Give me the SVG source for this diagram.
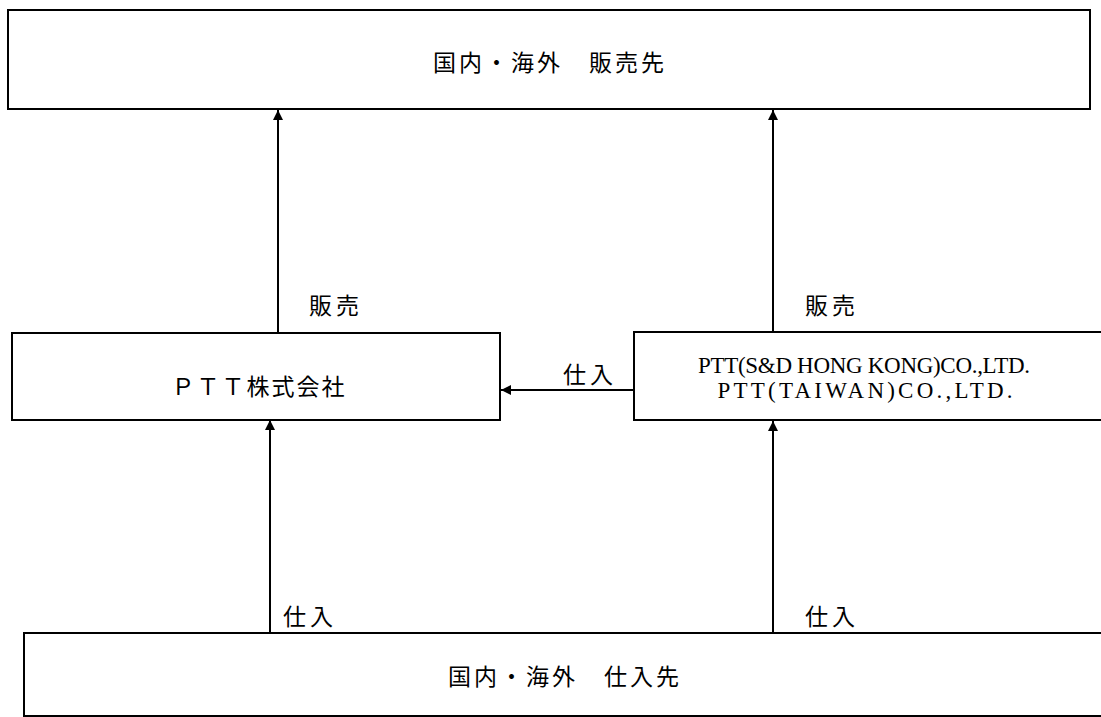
<svg xmlns="http://www.w3.org/2000/svg" width="1101" height="717" viewBox="0 0 1101 717">
<defs>
<marker id="ah" viewBox="0 0 10 10" refX="10" refY="5" markerWidth="10" markerHeight="10" markerUnits="userSpaceOnUse" orient="auto">
<path d="M0,0 L10,5 L0,10 Z" fill="#000"/>
</marker>
<style>
.box{fill:#fff;stroke:#000;stroke-width:2}
.t{font-family:"Noto Sans CJK JP","Liberation Serif",serif;font-size:23px;fill:#000}
.lat{font-family:"Liberation Serif","Noto Sans CJK JP",serif;font-size:23px;fill:#000}
.c{stroke:#000;stroke-width:2;fill:none;marker-end:url(#ah)}
</style>
</defs>
<rect width="1101" height="717" fill="#fff"/>
<g id="connectors">
<line class="c" x1="278" y1="333" x2="278" y2="110"/>
<line class="c" x1="773" y1="332" x2="773" y2="110"/>
<line class="c" x1="270" y1="633" x2="270" y2="420"/>
<line class="c" x1="773" y1="633" x2="773" y2="421"/>
<line class="c" x1="634" y1="390" x2="501" y2="390"/>
</g>
<g id="node-sales">
<rect class="box" x="8" y="10" width="1082" height="99"/>
<text class="t" x="550" y="71" text-anchor="middle" letter-spacing="3">国内・海外　販売先</text>
</g>
<g id="node-ptt">
<rect class="box" x="12" y="333" width="488" height="87"/>
<text class="t" x="259" y="395" text-anchor="middle" letter-spacing="2">ＰＴＴ株式会社</text>
</g>
<g id="node-overseas">
<rect class="box" x="634" y="332" width="480" height="88"/>
<text class="lat" x="864" y="373" text-anchor="middle" textLength="332" lengthAdjust="spacing">PTT(S&amp;D HONG KONG)CO.,LTD.</text>
<text class="lat" x="865" y="398" text-anchor="middle" textLength="295" lengthAdjust="spacing">PTT(TAIWAN)CO.,LTD.</text>
</g>
<g id="node-supply">
<rect class="box" x="24" y="633" width="1090" height="83"/>
<text class="t" x="565" y="685" text-anchor="middle" letter-spacing="3">国内・海外　仕入先</text>
</g>
<g id="labels">
<text class="t" x="309" y="314" letter-spacing="4">販売</text>
<text class="t" x="805" y="314" letter-spacing="4">販売</text>
<text class="t" x="563" y="383" letter-spacing="4">仕入</text>
<text class="t" x="283" y="625" letter-spacing="4">仕入</text>
<text class="t" x="805" y="625" letter-spacing="4">仕入</text>
</g>
</svg>
